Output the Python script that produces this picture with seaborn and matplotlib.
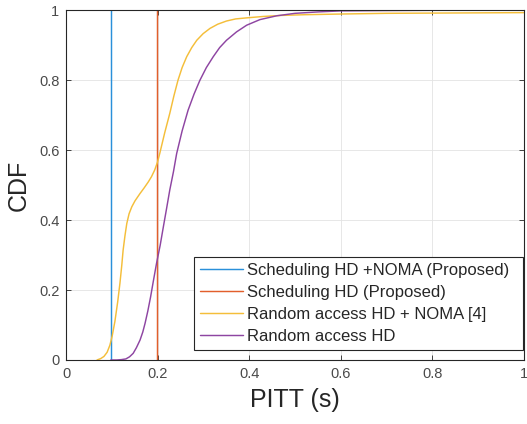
import numpy as np
import pandas as pd
import matplotlib
matplotlib.use("Agg")
import matplotlib.pyplot as plt
import seaborn as sns

# --- data (PITT in s, CDF) ---
labels = [
    "Scheduling HD +NOMA (Proposed)",
    "Scheduling HD (Proposed)",
    "Random access HD + NOMA [4]",
    "Random access HD",
]

sched_noma_x = [0.098, 0.098]
sched_noma_y = [0.0, 1.0]

sched_x = [0.197, 0.197]
sched_y = [0.0, 1.0]

ra_noma_x = [0.067, 0.075, 0.082, 0.089, 0.095, 0.100, 0.106, 0.112, 0.117, 0.121,
             0.124, 0.128, 0.132, 0.137, 0.143, 0.150, 0.161, 0.170, 0.179, 0.186,
             0.193, 0.199, 0.204, 0.215, 0.226, 0.235, 0.244, 0.253, 0.263, 0.274,
             0.285, 0.299, 0.314, 0.331, 0.350, 0.370, 0.394, 0.430, 0.470, 0.520,
             0.600, 0.700, 0.850, 1.000]
ra_noma_y = [0.000, 0.004, 0.010, 0.022, 0.042, 0.068, 0.110, 0.165, 0.219, 0.270,
             0.314, 0.355, 0.390, 0.418, 0.438, 0.455, 0.476, 0.492, 0.509, 0.524,
             0.543, 0.565, 0.590, 0.650, 0.705, 0.755, 0.800, 0.836, 0.867, 0.893,
             0.914, 0.933, 0.948, 0.960, 0.969, 0.975, 0.978, 0.982, 0.985, 0.987,
             0.989, 0.991, 0.992, 0.993]

ra_x = [0.097, 0.110, 0.120, 0.130, 0.138, 0.146, 0.153, 0.161, 0.167, 0.172,
        0.178, 0.184, 0.190, 0.197, 0.205, 0.212, 0.219, 0.226, 0.234, 0.241,
        0.253, 0.266, 0.279, 0.292, 0.306, 0.321, 0.335, 0.350, 0.372, 0.394,
        0.423, 0.460, 0.500, 0.550, 0.600, 0.700, 0.850, 1.000]
ra_y = [0.000, 0.000, 0.001, 0.003, 0.009, 0.019, 0.035, 0.057, 0.080, 0.105,
        0.140, 0.180, 0.225, 0.276, 0.328, 0.381, 0.433, 0.486, 0.538, 0.590,
        0.655, 0.714, 0.760, 0.800, 0.836, 0.867, 0.893, 0.914, 0.938, 0.957,
        0.973, 0.984, 0.991, 0.995, 0.998, 0.999, 1.000, 1.000]

colors = ["#2A90DA", "#E25F2C", "#F4BE3A", "#8E45A2"]

frames = []
for lab, xs, ys in zip(labels,
                       [sched_noma_x, sched_x, ra_noma_x, ra_x],
                       [sched_noma_y, sched_y, ra_noma_y, ra_y]):
    frames.append(pd.DataFrame({"PITT": xs, "CDF": ys, "series": lab}))
df = pd.concat(frames, ignore_index=True)

# --- style ---
sns.set_theme(style="ticks")
plt.rcParams['font.family'] = ['Liberation Sans', 'DejaVu Sans']
plt.rcParams['xtick.direction'] = 'in'
plt.rcParams['ytick.direction'] = 'in'

fig = plt.figure(figsize=(5.27, 4.24), dpi=100)
ax = fig.add_axes([0.126, 0.151, 0.868, 0.825])

sns.lineplot(data=df, x="PITT", y="CDF", hue="series", hue_order=labels,
             palette=colors, estimator=None, sort=False, linewidth=1.05, ax=ax)

ax.set_xlim(0, 1)
ax.set_ylim(0, 1)
ax.set_xticks([0, 0.2, 0.4, 0.6, 0.8, 1])
ax.set_yticks([0, 0.2, 0.4, 0.6, 0.8, 1])
ax.set_xticklabels(["0", "0.2", "0.4", "0.6", "0.8", "1"])
ax.set_yticklabels(["0", "0.2", "0.4", "0.6", "0.8", "1"])
ax.grid(True, color="#e3e3e3", linewidth=0.6)
ax.set_axisbelow(True)

ax.tick_params(axis="both", which="both", direction="in", length=3.5, width=0.6,
               color="#262626", labelsize=10.5, labelcolor="#4a4a4a",
               top=True, right=True, pad=5)
for s in ax.spines.values():
    s.set_color("#262626")
    s.set_linewidth(0.8)

ax.set_xlabel("PITT (s)", fontsize=18, color="#262626", labelpad=5)
ax.set_ylabel("CDF", fontsize=18, color="#262626", labelpad=6)

# MATLAB-like legend box in the lower right corner
leg = ax.legend(loc="lower left", bbox_to_anchor=(0.279, 0.0286, 0.719, 0.25),
                mode="expand", borderaxespad=0,
                fontsize=12, frameon=True, fancybox=False, edgecolor="#262626",
                framealpha=1, handlelength=2.6, handletextpad=0.2,
                labelspacing=0.42, borderpad=0.35)
leg.get_frame().set_linewidth(0.8)
for t in leg.get_texts():
    t.set_color("#262626")

fig.savefig("out.png", dpi=100)
